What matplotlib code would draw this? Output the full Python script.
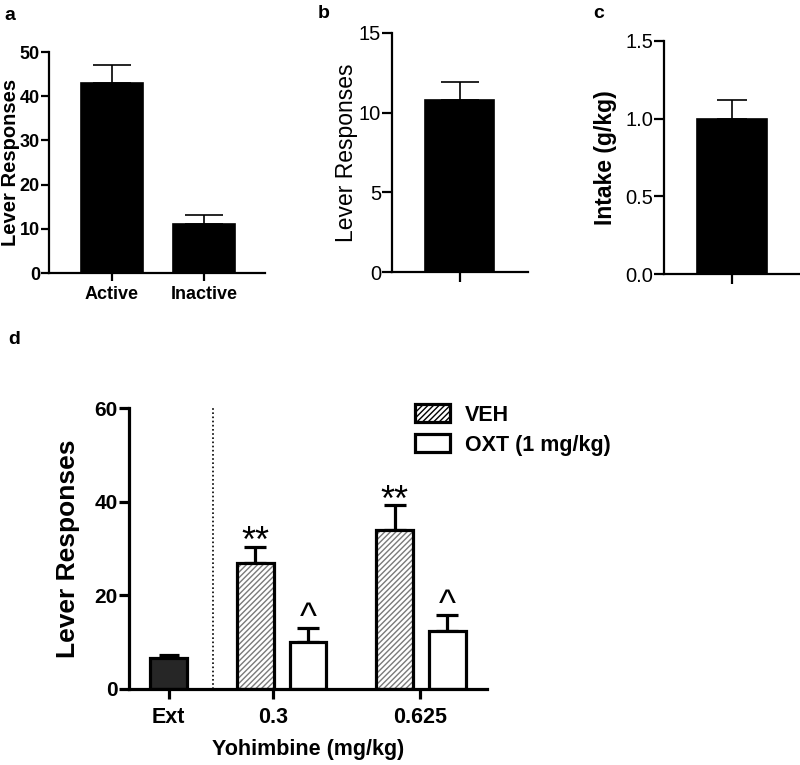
import matplotlib
matplotlib.use("Agg")
import matplotlib.pyplot as plt
import numpy as np

plt.rcParams["font.family"] = ["Liberation Sans", "DejaVu Sans"]
plt.rcParams["hatch.linewidth"] = 1.0

# panel a
a_labels = ["Active", "Inactive"]
a_means = [43.0, 11.0]
a_sem = [4.0, 2.2]
# panel b
b_means = [10.8]
b_sem = [1.1]
# panel c
c_means = [1.0]
c_sem = [0.12]
# panel d
d_groups = ["Ext", "0.3", "0.625"]
ext_mean = [6.7]
ext_sem = [0.5]
veh_means = [27.0, 34.0]
veh_sem = [3.4, 5.2]
oxt_means = [10.0, 12.3]
oxt_sem = [3.0, 3.4]
veh_marks = ["**", "**"]
oxt_marks = ["^", "^"]

W, H = 800, 765
fig = plt.figure(figsize=(W / 100, H / 100), dpi=100)


def px_axes(left, top, right, bottom):
    return fig.add_axes([left / W, 1 - bottom / H, (right - left) / W, (bottom - top) / H])


def style_axes(ax, lw, tick_len):
    for side in ("top", "right"):
        ax.spines[side].set_visible(False)
    for side in ("left", "bottom"):
        ax.spines[side].set_linewidth(lw)
    ax.tick_params(axis="both", width=lw, length=tick_len, direction="out")


def plain_bars(ax, x, means, sems, width, lw, capsize, face="black"):
    ax.errorbar(x, means, yerr=[np.zeros(len(means)), sems], fmt="none",
                ecolor="black", elinewidth=lw, capsize=capsize, capthick=lw, zorder=1)
    ax.bar(x, means, width=width, color=face, edgecolor="black", linewidth=lw, zorder=2)


# ---- a ----
ax = px_axes(49, 52, 265, 273)
xa = np.arange(len(a_means))
plain_bars(ax, xa, a_means, a_sem, 0.68, 1.2, 14)
ax.set_xlim(-0.685, 1.663)
ax.set_ylim(0, 50)
ax.set_yticks([0, 10, 20, 30, 40, 50])
ax.set_xticks(xa)
ax.set_xticklabels(a_labels, fontsize=13, fontweight="bold")
for t in ax.get_yticklabels():
    t.set_fontsize(13)
    t.set_fontweight("bold")
ax.set_ylabel("Lever Responses", fontsize=14.5, fontweight="bold")
style_axes(ax, 1.6, 6)
ax.tick_params(axis="y", length=6, pad=0.5)
ax.yaxis.set_label_coords(-0.134, 0.5)
fig.text(4 / W, 1 - 15 / H, "a", fontsize=14, fontweight="bold", va="center")

# ---- b ----
ax = px_axes(392, 33, 528, 272)
plain_bars(ax, [0], b_means, b_sem, 0.59, 1.2, 14)
ax.set_xlim(-0.571, 0.579)
ax.set_ylim(0, 15)
ax.set_yticks([0, 5, 10, 15])
ax.set_xticks([0])
ax.set_xticklabels([""])
ax.set_ylabel("Lever Responses", fontsize=16.5)
style_axes(ax, 1.6, 7)
ax.tick_params(axis="y", labelsize=14.5, pad=1)
ax.yaxis.set_label_coords(-0.25, 0.5)
fig.text(318 / W, 1 - 13 / H, "b", fontsize=14, fontweight="bold", va="center")

# ---- c ----
ax = px_axes(664, 41, 800, 274)
plain_bars(ax, [0], c_means, c_sem, 0.58, 1.2, 10.5)
ax.set_xlim(-0.565, 0.565)
ax.set_ylim(0, 1.5)
ax.set_yticks([0.0, 0.5, 1.0, 1.5])
ax.set_yticklabels(["0.0", "0.5", "1.0", "1.5"])
ax.set_xticks([0])
ax.set_xticklabels([""])
ax.set_ylabel("Intake (g/kg)", fontsize=16.5, fontweight="bold")
style_axes(ax, 1.6, 7)
ax.tick_params(axis="y", labelsize=14.5, pad=1)
ax.yaxis.set_label_coords(-0.346, 0.5)
fig.text(593 / W, 1 - 13 / H, "c", fontsize=14, fontweight="bold", va="center")

# ---- d ----
ax = px_axes(129, 408, 487, 689)
lw = 2.3
bw = 0.92
x_veh = np.array([2.175, 5.675])
x_oxt = np.array([3.5, 7.0])

ax.errorbar([0], ext_mean, yerr=[[0], ext_sem], fmt="none", ecolor="black",
            elinewidth=lw, capsize=7.5, capthick=lw, zorder=1)
ax.bar([0], ext_mean, width=bw, color="#262626", edgecolor="black", linewidth=lw, zorder=2)

ax.errorbar(x_veh, veh_means, yerr=[np.zeros(2), veh_sem], fmt="none", ecolor="black",
            elinewidth=lw, capsize=8, capthick=lw, zorder=1)
ax.bar(x_veh, veh_means, width=bw, color="white", edgecolor="#7a7a7a", hatch="//////",
       linewidth=0, zorder=2)
ax.bar(x_veh, veh_means, width=bw, color="none", edgecolor="black", linewidth=lw, zorder=3)

ax.errorbar(x_oxt, oxt_means, yerr=[np.zeros(2), oxt_sem], fmt="none", ecolor="black",
            elinewidth=lw, capsize=8, capthick=lw, zorder=1)
ax.bar(x_oxt, oxt_means, width=bw, color="white", edgecolor="black", linewidth=lw, zorder=2)

for xi, m, s, mark in zip(x_veh, veh_means, veh_sem, veh_marks):
    ax.text(xi, m + s - 1.2, mark, ha="center", va="baseline", fontsize=26)
for xi, m, s, mark in zip(x_oxt, oxt_means, oxt_sem, oxt_marks):
    ax.text(xi, m + s + 0.0, mark, ha="center", va="baseline", fontsize=26)

ax.axvline(1.1, color="black", linestyle=(0, (1, 1.5)), linewidth=1.2)

ax.set_xlim(-1.0, 8.0)
ax.set_ylim(0, 60)
ax.set_yticks([0, 20, 40, 60])
ax.set_xticks([0, 2.625, 6.325])
ax.set_xticklabels(d_groups, fontsize=15.5, fontweight="bold")
for t in ax.get_yticklabels():
    t.set_fontsize(15)
    t.set_fontweight("bold")
ax.set_ylabel("Lever Responses", fontsize=19, fontweight="bold")
ax.set_xlabel("Yohimbine (mg/kg)", fontsize=15.5, fontweight="bold", labelpad=8)
style_axes(ax, lw, 7)
ax.tick_params(axis="x", pad=6)
ax.tick_params(axis="y", pad=1)
ax.yaxis.set_label_coords(-0.137, 0.5)

# legend
leg_handles = [
    plt.Rectangle((0, 0), 1, 1, facecolor="white", edgecolor="black", hatch="//////", linewidth=lw),
    plt.Rectangle((0, 0), 1, 1, facecolor="white", edgecolor="black", linewidth=lw),
]
leg = fig.legend(leg_handles, ["VEH", "OXT (1 mg/kg)"], loc="upper left",
                 bbox_to_anchor=(396 / W, 1 - 385 / H), frameon=False,
                 prop={"size": 15.5, "weight": "bold"}, handlelength=1.6,
                 handleheight=0.9, handletextpad=0.7, labelspacing=0.4)
fig.text(8 / W, 1 - 339 / H, "d", fontsize=14, fontweight="bold", va="center")

fig.savefig("out.png", dpi=100)
